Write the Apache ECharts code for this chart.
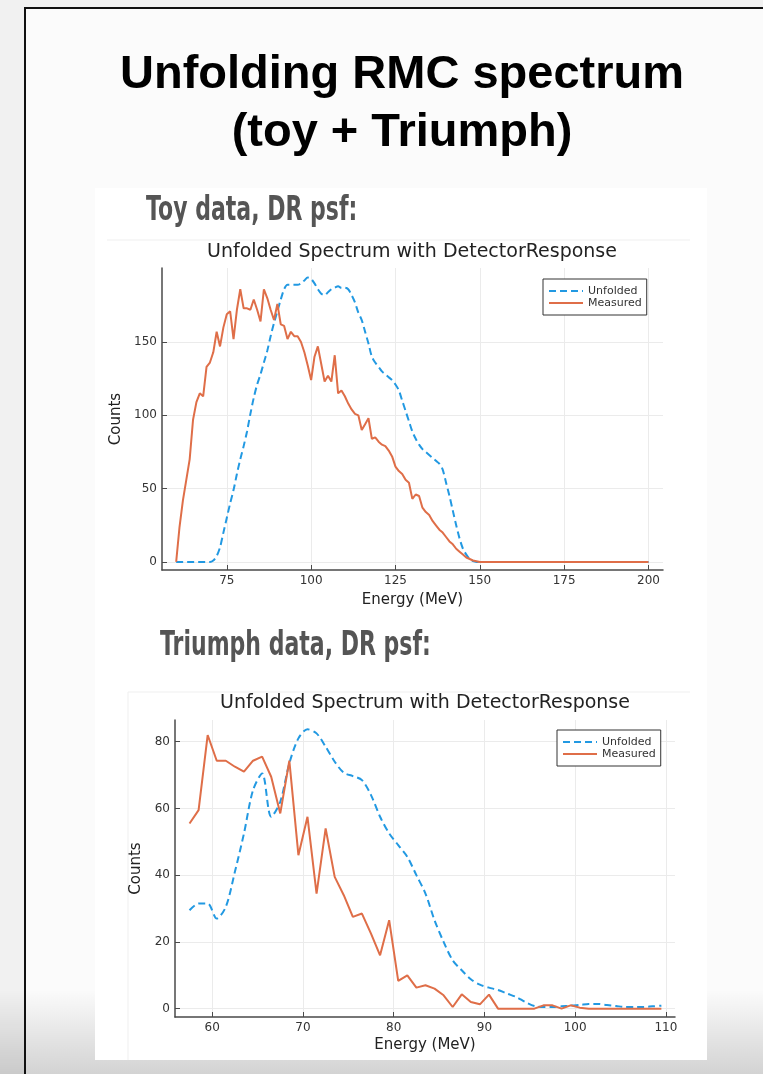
<!DOCTYPE html>
<html>
<head>
<meta charset="utf-8">
<script src="https://cdn.jsdelivr.net/npm/echarts@6/dist/echarts.min.js"></script>
<style>
html,body{margin:0;padding:0;background:#f1f1f1;}
#c{width:763px;height:1074px;}
</style>
</head>
<body>
<div id="c"></div>
<script>
// ---------- Toy data (top chart) ----------
const toyEnergy = [60,61,62,63,64,65,66,67,68,69,70,71,72,73,74,75,76,77,78,79,80,81,82,83,84,85,86,87,88,89,90,91,92,93,94,95,96,97,98,99,100,101,102,103,104,105,106,107,108,109,110,111,112,113,114,115,116,117,118,119,120,121,122,123,124,125,126,127,128,129,130,131,132,133,134,135,136,137,138,139,140,141,142,143,144,145,146,147,148,149,150,175,200];
const toyUnfolded = [
  0,0,0,0,0,0,0,0,0,0,
  0,1,4,10,20,30,40,49,60,70,
  79,89,101,112,121,128,136,144,154,163,
  171,179,186,189,189,189,189,190,192,194,
  193,190,186,183,182,184,186,187,188,187,
  187,186,182,177,170,165,157,149,140,136,
  133,130,128,126,124,121,117,110,103,96,
  89,84,80,77,75,73,71,69,67,63,
  54,45,35,25,16,9,5,2,0.5,0,
  0,0,0];
const toyMeasured = [
  0,24,42,56,70,97,109,115,113,133,
  136,143,157,147,160,169,171,152,172,186,
  173,173,172,179,172,164,186,180,172,165,
  176,162,161,152,157,154,154,150,143,134,
  124,140,147,135,123,127,123,141,115,117,
  113,108,104,101,100,90,94,98,84,85,
  82,80,79,76,72,65,62,60,56,54,
  43,46,45,37,34,32,28,25,22,20,
  17,14,12,9,7,5,3,2,1,0.5,
  0,0,0];
const toyXTicks = [75,100,125,150,175,200];
const toyYTicks = [0,50,100,150];

// ---------- Triumph data (bottom chart) ----------
const triEnergy = [57.5,58.5,59.5,60.5,61.5,62.5,63.5,64.5,65.5,66.5,67.5,68.5,69.5,70.5,71.5,72.5,73.5,74.5,75.5,76.5,77.5,78.5,79.5,80.5,81.5,82.5,83.5,84.5,85.5,86.5,87.5,88.5,89.5,90.5,91.5,92.5,93.5,94.5,95.5,96.5,97.5,98.5,99.5,100.5,101.5,102.5,103.5,104.5,105.5,106.5,107.5,108.5,109.5];
const triUnfolded = [
  29.5,31.5,31.5,27,30.5,41,52.5,65.5,70.5,57.5,
  62,73.5,81,83.7,82.5,78.5,74,70.7,69.7,68.5,
  64,57.5,52.5,49,45.5,40,34.5,26.5,20,14.5,
  11.5,8.8,7.2,6.3,5.6,4.5,3.5,2,0.8,0.5,
  0.5,0.7,0.9,1.1,1.4,1.4,1.1,0.8,0.5,0.5,
  0.5,0.7,0.9];
const triMeasured = [
  55.5,59.5,82,74.3,74.3,72.5,71,74.3,75.5,69.5,
  58.5,74.3,46,57.5,34.5,54,39.5,34,27.5,28.5,
  22.5,16,26.5,8.3,10,6.3,7,6,4,0.5,
  4.3,2,1.3,4.2,0,0,0,0,0,1,
  1,0,1,0.3,0,0,0,0,0,0,
  0,0,0];
const triXTicks = [60,70,80,90,100,110];
const triYTicks = [0,20,40,60,80];

const seriesNames = ['Unfolded','Measured'];
const PLOT_FONT = "'DejaVu Sans', Verdana, sans-serif";
const HEAD_FONT = "'Liberation Sans Narrow', 'DejaVu Sans', sans-serif";
const BLUE = '#2299e2';
const ORANGE = '#df6e48';
const AXIS_COLOR = '#4a4a4a';

function pairs(xs, ys){ return xs.map((x,i)=>[x, ys[i]]); }

function xAxisCfg(gi, min, max, ticks, gap){
  return {
    type:'value', gridIndex:gi, min:min, max:max,
    name:'Energy (MeV)', nameLocation:'middle', nameGap:gap,
    nameTextStyle:{fontFamily:PLOT_FONT, fontSize:15, color:'#222'},
    axisLine:{show:true, onZero:false, lineStyle:{color:AXIS_COLOR, width:1.5}},
    axisTick:{show:true, inside:true, length:5, customValues:ticks, lineStyle:{color:AXIS_COLOR, width:1}},
    axisLabel:{show:true, customValues:ticks, fontFamily:PLOT_FONT, fontSize:12, color:'#333', margin:5},
    splitLine:{show:true, lineStyle:{color:'#ebebeb', width:1}}
  };
}
function yAxisCfg(gi, min, max, ticks, gap){
  return {
    type:'value', gridIndex:gi, min:min, max:max,
    name:'Counts', nameLocation:'middle', nameGap:gap,
    nameTextStyle:{fontFamily:PLOT_FONT, fontSize:15, color:'#222'},
    axisLine:{show:true, onZero:false, lineStyle:{color:AXIS_COLOR, width:1.5}},
    axisTick:{show:true, inside:true, length:5, customValues:ticks, lineStyle:{color:AXIS_COLOR, width:1}},
    axisLabel:{show:true, customValues:ticks, fontFamily:PLOT_FONT, fontSize:12, color:'#333', margin:5},
    splitLine:{show:true, lineStyle:{color:'#ebebeb', width:1}}
  };
}
function legendCfg(left, top){
  return {
    orient:'vertical', left:left, top:top, data:seriesNames,
    itemWidth:34, itemHeight:8, itemGap:0, padding:[6,5,6,5],
    borderColor:'#333', borderWidth:1, borderRadius:0, backgroundColor:'#fff',
    selectedMode:false,
    itemStyle:{opacity:0, borderWidth:0},
    textStyle:{fontFamily:PLOT_FONT, fontSize:11, color:'#333', lineHeight:12}
  };
}
function lineSeries(name, xi, data, color, dashed){
  return {
    name:name, type:'line', xAxisIndex:xi, yAxisIndex:xi, data:data,
    showSymbol:false, symbol:'none', smooth: dashed ? 0.3 : false, z:3,
    lineStyle:{color:color, width:2, type: dashed ? [7,4] : 'solid'},
    itemStyle:{color:color}
  };
}

const chart = echarts.init(document.getElementById('c'), null, {renderer:'canvas'});
const option = {
  animation:false,
  backgroundColor:'transparent',
  grid:[
    {left:162, top:268, width:501, height:302, outerBoundsMode:'none', containLabel:false},
    {left:175, top:720, width:500, height:297, outerBoundsMode:'none', containLabel:false}
  ],
  xAxis:[ xAxisCfg(0, 55.8, 204.3, toyXTicks, 23), xAxisCfg(1, 55.9, 111, triXTicks, 21) ],
  yAxis:[ yAxisCfg(0, -5.5, 200.5, toyYTicks, 37), yAxisCfg(1, -2.5, 86.5, triYTicks, 30) ],
  legend:[ legendCfg(543, 279), legendCfg(557, 730) ],
  series:[
    lineSeries('Unfolded', 0, pairs(toyEnergy, toyUnfolded), BLUE, true),
    lineSeries('Measured', 0, pairs(toyEnergy, toyMeasured), ORANGE, false),
    lineSeries('Unfolded', 1, pairs(triEnergy, triUnfolded), BLUE, true),
    lineSeries('Measured', 1, pairs(triEnergy, triMeasured), ORANGE, false)
  ],
  graphic:{ elements:[
    {type:'rect', silent:true, z:-100, shape:{x:25,y:8,width:760,height:1080}, style:{fill:'#fbfbfb'}},
    {type:'rect', silent:true, z:-99, shape:{x:0,y:990,width:763,height:84},
      style:{fill:new echarts.graphic.LinearGradient(0,0,0,1,[{offset:0,color:'rgba(0,0,0,0)'},{offset:1,color:'rgba(0,0,0,0.16)'}])}},
    {type:'rect', silent:true, z:-98, shape:{x:95,y:188,width:612,height:872}, style:{fill:'#ffffff'}},
    {type:'polyline', silent:true, z:-97, shape:{points:[[25,1074],[25,8],[763,8]]}, style:{stroke:'#111', lineWidth:2, fill:null}},
    {type:'line', silent:true, z:-96, shape:{x1:107,y1:240,x2:690,y2:240}, style:{stroke:'#efefef', lineWidth:1}},
    {type:'polyline', silent:true, z:-96, shape:{points:[[128,1060],[128,692],[690,692]]}, style:{stroke:'#efefef', lineWidth:1, fill:null}},
    {type:'text', silent:true, z:10, style:{x:402, y:75, text:'Unfolding RMC spectrum', align:'center', verticalAlign:'middle',
      fontFamily:"'Liberation Sans', Arial, sans-serif", fontWeight:'bold', fontSize:47, fill:'#000'}},
    {type:'text', silent:true, z:10, style:{x:402, y:133, text:'(toy + Triumph)', align:'center', verticalAlign:'middle',
      fontFamily:"'Liberation Sans', Arial, sans-serif", fontWeight:'bold', fontSize:47, fill:'#000'}},
    {type:'text', silent:true, z:10, x:146, y:211, scaleX:0.71, scaleY:1.07,
      style:{x:0, y:0, text:'Toy data, DR psf:', align:'left', verticalAlign:'middle',
      fontFamily:HEAD_FONT, fontWeight:'bold', fontSize:31, fill:'#555'}},
    {type:'text', silent:true, z:10, x:160, y:646, scaleX:0.71, scaleY:1.07,
      style:{x:0, y:0, text:'Triumph data, DR psf:', align:'left', verticalAlign:'middle',
      fontFamily:HEAD_FONT, fontWeight:'bold', fontSize:31, fill:'#555'}},
    {type:'text', silent:true, z:10, style:{x:412, y:252, text:'Unfolded Spectrum with DetectorResponse', align:'center', verticalAlign:'middle',
      fontFamily:PLOT_FONT, fontSize:19, fill:'#222'}},
    {type:'text', silent:true, z:10, style:{x:425, y:703, text:'Unfolded Spectrum with DetectorResponse', align:'center', verticalAlign:'middle',
      fontFamily:PLOT_FONT, fontSize:19, fill:'#222'}}
  ]}
};
chart.setOption(option);
</script>
</body>
</html>
